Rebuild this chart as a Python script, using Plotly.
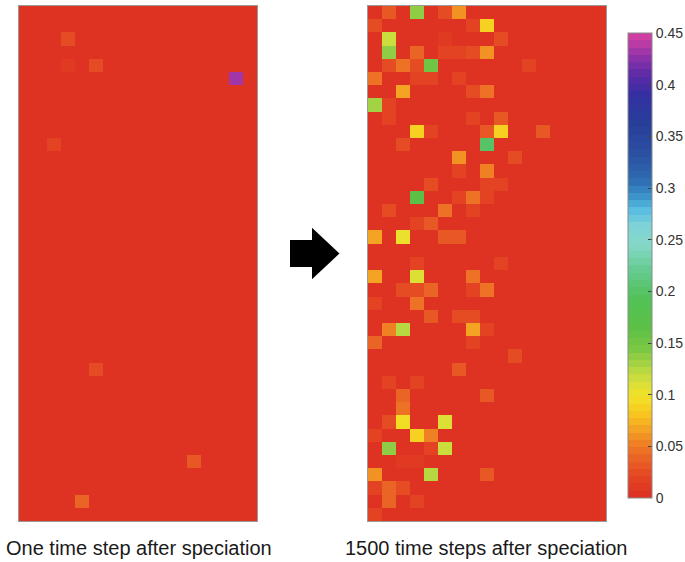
import numpy as np
import plotly.graph_objects as go

W, H = 685, 562
N_ROWS, N_COLS = 39, 17
Z_MAX = 0.45

# Non-background cells (row, column, value); every other cell is 0
left_rows = [1, 2, 4, 4, 5, 10, 12, 27, 29, 31, 34, 34, 37]
left_cols = [2, 3, 3, 5, 15, 2, 10, 5, 1, 3, 6, 12, 4]
left_vals = [0.005, 0.025, 0.008, 0.025, 0.43, 0.02, 0.006, 0.025, 0.004, 0.006, 0.005, 0.03, 0.04]

right_rows = [0, 0, 0, 0,
              1, 1, 1,
              2, 2, 2,
              3, 3, 3, 3, 3, 3,
              4, 4, 4, 4, 4,
              5, 5, 5, 5,
              6, 6, 6,
              7, 7,
              8, 8, 8,
              9, 9, 9, 9, 9,
              10, 10,
              11, 11,
              12, 12,
              13, 13, 13,
              14, 14, 14, 14,
              15, 15, 15,
              16, 16,
              17, 17, 17, 17,
              19, 19,
              20, 20, 20,
              21, 21, 21, 21, 21,
              22, 22,
              23, 23, 23,
              24, 24, 24, 24,
              25, 25,
              26, 27,
              28, 28,
              29, 29,
              30,
              31, 31, 31,
              32, 32, 32,
              33, 33, 33,
              34, 34,
              35, 35, 35,
              36, 36, 36,
              37, 37,
              38]
right_cols = [1, 3, 5, 6,
              0, 7, 8,
              1, 5, 9,
              1, 3, 5, 6, 7, 8,
              1, 2, 3, 4, 11,
              0, 3, 4, 6,
              2, 7, 8,
              0, 1,
              1, 7, 9,
              3, 4, 8, 9, 12,
              2, 8,
              6, 10,
              6, 8,
              4, 8, 9,
              3, 6, 7, 8,
              1, 5, 7,
              3, 4,
              0, 2, 5, 6,
              3, 9,
              0, 3, 7,
              2, 3, 4, 7, 8,
              0, 3,
              4, 6, 7,
              1, 2, 7, 8,
              0, 7,
              10, 6,
              1, 3,
              2, 8,
              2,
              1, 2, 5,
              0, 3, 4,
              1, 4, 5,
              2, 3,
              0, 4, 8,
              0, 1, 2,
              1, 3,
              0]
right_vals = [0.03, 0.135, 0.025, 0.06,
              0.025, 0.02, 0.09,
              0.115, 0.01, 0.025,
              0.14, 0.04, 0.015, 0.015, 0.025, 0.06,
              0.025, 0.045, 0.025, 0.15, 0.015,
              0.045, 0.015, 0.015, 0.015,
              0.065, 0.025, 0.045,
              0.13, 0.02,
              0.02, 0.015, 0.03,
              0.09, 0.015, 0.03, 0.085, 0.03,
              0.025, 0.2,
              0.06, 0.025,
              0.02, 0.05,
              0.025, 0.015, 0.015,
              0.165, 0.015, 0.045, 0.015,
              0.025, 0.045, 0.015,
              0.015, 0.03,
              0.07, 0.1, 0.03, 0.03,
              0.015, 0.015,
              0.07, 0.11, 0.045,
              0.025, 0.025, 0.04, 0.02, 0.045,
              0.015, 0.045,
              0.035, 0.025, 0.025,
              0.05, 0.12, 0.065, 0.02,
              0.04, 0.015,
              0.025, 0.03,
              0.015, 0.015,
              0.04, 0.03,
              0.045,
              0.025, 0.095, 0.11,
              0.015, 0.085, 0.05,
              0.135, 0.015, 0.115,
              0.01, 0.01,
              0.06, 0.125, 0.03,
              0.015, 0.04, 0.025,
              0.04, 0.015,
              0.015]

tick_vals = [0, 0.05, 0.1, 0.15, 0.2, 0.25, 0.3, 0.35, 0.4, 0.45]
tick_text = ["0", "0.05", "0.1", "0.15", "0.2", "0.25", "0.3", "0.35", "0.4", "0.45"]

left_title = "One time step after speciation"
right_title = "1500 time steps after speciation"


def build_grid(rows, cols, vals):
    z = np.zeros((N_ROWS, N_COLS))
    for r, c, v in zip(rows, cols, vals):
        z[r, c] = v
    return z


# Banded red-yellow-green-cyan-blue-magenta palette (64 steps)
anchor_pos = [0.000, 0.020, 0.035, 0.050, 0.065, 0.080, 0.095, 0.110, 0.125,
              0.140, 0.160, 0.190, 0.215, 0.240, 0.260, 0.275, 0.290, 0.305,
              0.330, 0.360, 0.385, 0.405, 0.425, 0.440, 0.450]
anchor_hex = ["#DE3222", "#E54A24", "#EA6426", "#F08224", "#F5A822", "#F8CA20",
              "#F2E228", "#D2DE3C", "#A8D444", "#7CC844", "#5CC044", "#52C158",
              "#62CA8E", "#84D8C4", "#7ED2D8", "#58BEE2", "#3A8EC8", "#2E6AB0",
              "#2A50A2", "#283E9A", "#3430A0", "#5A2AA8", "#9434AA", "#C83CA4",
              "#E0449E"]


def hex_rgb(h):
    h = h.lstrip("#")
    return [int(h[i:i + 2], 16) for i in (0, 2, 4)]


anchor_rgb = np.array([hex_rgb(h) for h in anchor_hex], dtype=float)
n_bands = 64
colorscale = []
for i in range(n_bands):
    v = i / n_bands * Z_MAX
    rgb = [np.interp(v, anchor_pos, anchor_rgb[:, k]) for k in range(3)]
    col = "rgb({:d},{:d},{:d})".format(*[int(round(x)) for x in rgb])
    colorscale.append([i / n_bands, col])
    colorscale.append([(i + 1) / n_bands, col])

z_left = build_grid(left_rows, left_cols, left_vals)
z_right = build_grid(right_rows, right_cols, right_vals)

fig = go.Figure()
fig.add_trace(go.Heatmap(z=z_left, coloraxis="coloraxis", xaxis="x", yaxis="y",
                         hoverinfo="skip"))
fig.add_trace(go.Heatmap(z=z_right, coloraxis="coloraxis", xaxis="x2", yaxis="y2",
                         hoverinfo="skip"))

axis_style = dict(showticklabels=False, showgrid=False, zeroline=False, ticks="",
                  showline=True, mirror=True, linecolor="#9a9a9a", linewidth=1)

fig.update_layout(
    width=W, height=H,
    margin=dict(l=0, r=0, t=0, b=0, autoexpand=False),
    paper_bgcolor="white", plot_bgcolor="white",
    showlegend=False,
    xaxis=dict(domain=[19 / W, 257 / W], range=[-0.5, N_COLS - 0.5], anchor="y", **axis_style),
    yaxis=dict(domain=[1 - 521 / H, 1 - 6 / H], range=[N_ROWS - 0.5, -0.5], anchor="x", **axis_style),
    xaxis2=dict(domain=[368 / W, 606 / W], range=[-0.5, N_COLS - 0.5], anchor="y2", **axis_style),
    yaxis2=dict(domain=[1 - 521 / H, 1 - 6 / H], range=[N_ROWS - 0.5, -0.5], anchor="x2", **axis_style),
    coloraxis=dict(
        cmin=0, cmax=Z_MAX, colorscale=colorscale,
        colorbar=dict(
            x=628 / W, xanchor="left", xpad=0,
            y=1 - 33 / H, yanchor="top", ypad=0,
            len=465, lenmode="pixels", thickness=24,
            outlinewidth=1, outlinecolor="#8a8a8a",
            ticks="inside", ticklen=4, tickcolor="#444444",
            tickvals=tick_vals, ticktext=tick_text,
            tickfont=dict(family="Liberation Sans, Arial", size=14, color="#333333"),
        ),
    ),
)

# Captions under each panel
for text, cx in [(left_title, 139), (right_title, 486)]:
    fig.add_annotation(text=text, x=cx / W, y=1 - 548 / H, xref="paper", yref="paper",
                       xanchor="center", yanchor="middle", showarrow=False,
                       font=dict(family="Liberation Sans, Arial", size=20, color="#1a1a1a"))

# Block arrow between the two panels (pixel outline converted to paper units)
arrow_px = [(291, 241), (313, 241), (313, 230), (338, 253.5), (313, 277), (313, 266), (291, 266)]
path = "M " + " L ".join("{:.5f},{:.5f}".format(x / W, 1 - y / H) for x, y in arrow_px) + " Z"
fig.add_shape(type="path", path=path, xref="paper", yref="paper",
              fillcolor="black", line=dict(color="black", width=2))

fig.write_html("out.html")
